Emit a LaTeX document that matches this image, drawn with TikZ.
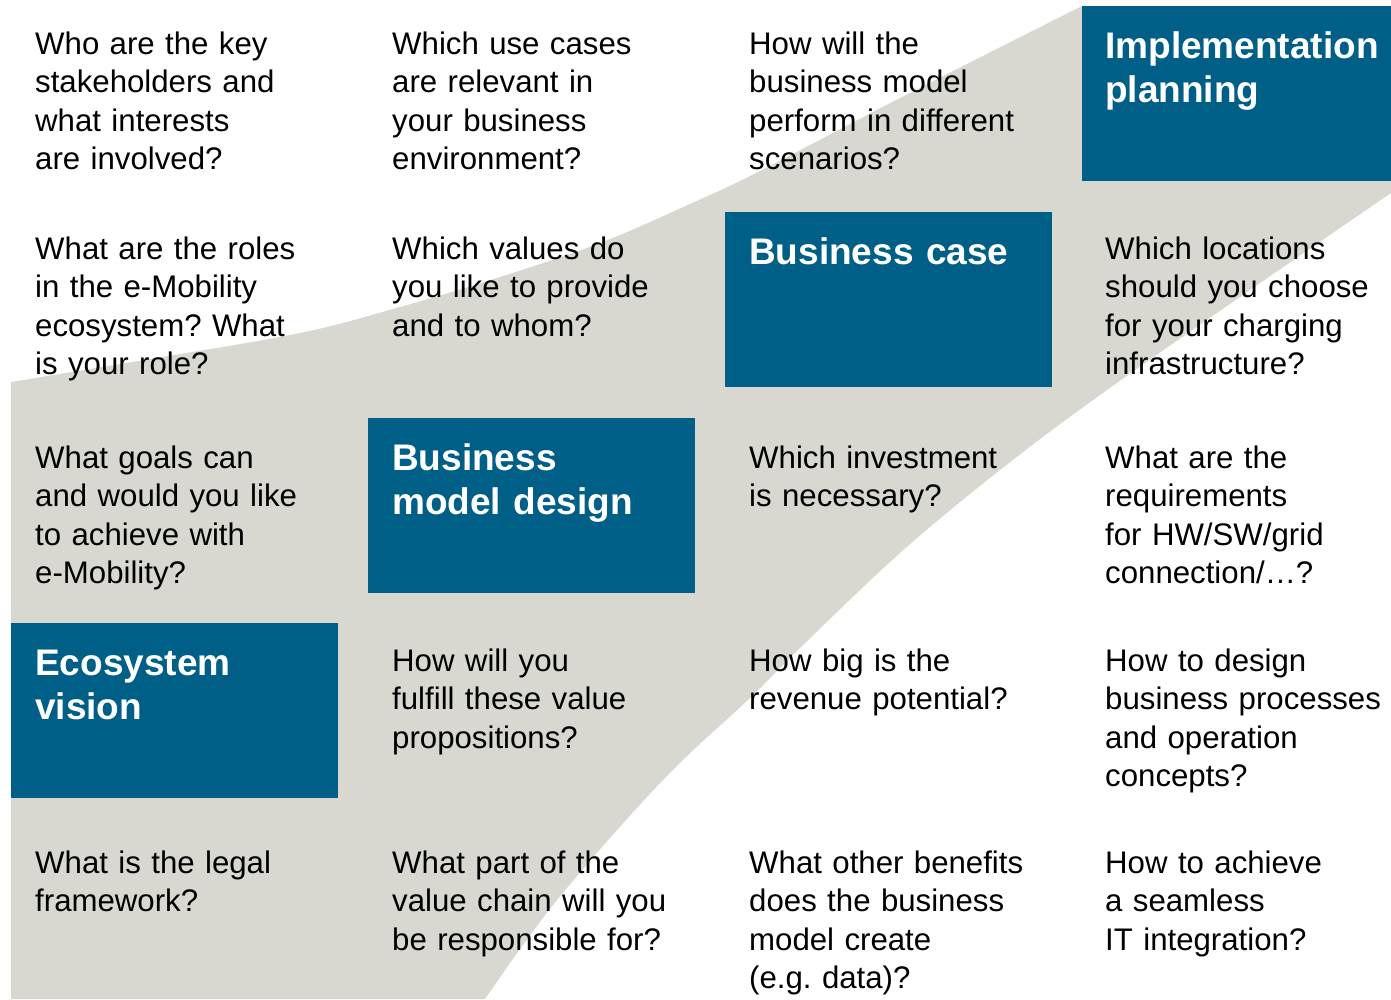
\documentclass[tikz,border=0pt]{standalone}
\usepackage{fontspec}
\setmainfont{Liberation Sans}
\definecolor{bandgray}{RGB}{216,216,208}
\definecolor{boxblue}{RGB}{0,95,135}
\frenchspacing
\begin{document}
\begin{tikzpicture}[x=1pt,y=-1pt,
  q/.style={anchor=base west, inner sep=0pt, text width=345pt, align=left,
    font=\fontsize{31.2}{38.5}\selectfont},
  ttl/.style={anchor=base west, inner sep=0pt, text width=300pt, align=left,
    text=white, font=\bfseries\fontsize{37}{44}\selectfont},
  phase/.style={fill=boxblue, draw=none}]
\useasboundingbox (0,0) rectangle (1391,999);
\fill[white] (0,0) rectangle (1391,999);
% grey band
\fill[bandgray] (11,999) -- (11,382)
  -- plot[smooth, tension=0.6] coordinates {(11,382) (150,359) (300,333) (400,307) (500,277) (600,243) (690,204) (760,171) (900,98) (1082,6)}
  -- (1391,6) -- (1391,193)
  -- plot[smooth, tension=0.6] coordinates {(1391,193) (1250,290) (1100,395) (1000,470) (900,553) (800,648) (750,698) (663,780) (557,900) (485,999)}
  -- cycle;
% phase boxes
\fill[phase] (1082,6) rectangle (1391,181);
\fill[phase] (725,212) rectangle (1052,387);
\fill[phase] (368,418) rectangle (695,593);
\fill[phase] (11,623) rectangle (338,798);
\node[ttl] (t4) at (1105,58) {Implementation\\planning};
\node[ttl] (t3) at (749,264) {Business case};
\node[ttl] (t2) at (392,470) {Business\\model design};
\node[ttl] (t1) at (35,675) {Ecosystem\\vision};
% column 1
\node[q] (a1) at (35,54) {Who are the key\\stakeholders and\\what interests\\are involved?};
\node[q] (a2) at (35,259) {What are the roles\\in the e-Mobility\\ecosystem? What\\is your role?};
\node[q] (a3) at (35,468) {What goals can\\and would you like\\to achieve with\\e-Mobility?};
\node[q] (a5) at (35,873) {What is the legal\\framework?};
% column 2
\node[q] (b1) at (392,54) {Which use cases\\are relevant in\\your business\\environment?};
\node[q] (b2) at (392,259) {Which values do\\you like to provide\\and to whom?};
\node[q] (b4) at (392,671) {How will you\\fulfill these value\\propositions?};
\node[q] (b5) at (392,873) {What part of the\\value chain will you\\be responsible for?};
% column 3
\node[q] (c1) at (749,54) {How will the\\business model\\perform in different\\scenarios?};
\node[q] (c3) at (749,468) {Which investment\\is necessary?};
\node[q] (c4) at (749,671) {How big is the\\revenue potential?};
\node[q] (c5) at (749,873) {What other benefits\\does the business\\model create\\(e.g. data)?};
% column 4
\node[q] (d2) at (1105,259) {Which locations\\should you choose\\for your charging\\infrastructure?};
\node[q] (d3) at (1105,468) {What are the\\requirements\\for HW/SW/grid\\connection/…?};
\node[q] (d4) at (1105,671) {How to design\\business processes\\and operation\\concepts?};
\node[q] (d5) at (1105,873) {How to achieve\\a seamless\\IT integration?};
\end{tikzpicture}
\end{document}
